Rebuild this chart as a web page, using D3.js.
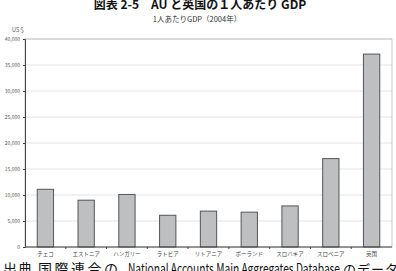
<!DOCTYPE html>
<html>
<head>
<meta charset="utf-8">
<script src="https://cdn.jsdelivr.net/npm/d3@7"></script>
<style>
  body { margin: 0; background: #fff; }
  svg { display: block; }
  text { font-family: "Noto Sans CJK JP", "Noto Sans", sans-serif; }
</style>
</head>
<body>
<svg id="chart" width="396" height="271"></svg>
<script>
// データ
const countries = ["チェコ", "エストニア", "ハンガリー", "ラトビア", "リトアニア", "ポーランド", "スロバキア", "スロベニア", "英国"];
const gdp = [11100, 9000, 10100, 6100, 6900, 6700, 7900, 17000, 37100];
const yTicks = [0, 5000, 10000, 15000, 20000, 25000, 30000, 35000, 40000];

const svg = d3.select("#chart");
const margin = { left: 25, top: 39, right: 4, bottom: 24 };
const W = 396, H = 271;
const x0 = margin.left, x1 = W - margin.right;
const y0 = H - margin.bottom, y1 = margin.top;

const x = d3.scaleBand().domain(countries).range([x0, x1]).paddingInner(0.6).paddingOuter(0.3);
const y = d3.scaleLinear().domain([0, 40000]).range([y0, y1]);

// タイトル
svg.append("text")
    .attr("x", 200).attr("y", 9)
    .attr("text-anchor", "middle")
    .attr("font-size", 12).attr("font-weight", "bold")
    .attr("fill", "#111")
    .text("図表 2-5　AU と英国の１人あたり GDP");

svg.append("text")
    .attr("x", 197).attr("y", 22)
    .attr("text-anchor", "middle")
    .attr("font-size", 7.5)
    .attr("fill", "#333")
    .text("1人あたりGDP（2004年）");

svg.append("text")
    .attr("x", 12).attr("y", 32)
    .attr("font-size", 5.5)
    .attr("fill", "#555")
    .text("US＄");

// グリッド
svg.append("g")
    .selectAll("line")
    .data(yTicks.filter(d => d > 0))
    .join("line")
    .attr("x1", x0).attr("x2", x1)
    .attr("y1", d => y(d)).attr("y2", d => y(d))
    .attr("stroke", "#e4e4e4").attr("stroke-width", 1);

// 枠
svg.append("rect")
    .attr("x", x0).attr("y", y1)
    .attr("width", x1 - x0).attr("height", y0 - y1)
    .attr("fill", "none").attr("stroke", "#b8b8b8").attr("stroke-width", 0.8);

// 棒
svg.append("g")
    .selectAll("rect")
    .data(countries)
    .join("rect")
    .attr("x", d => x(d))
    .attr("y", (d, i) => y(gdp[i]))
    .attr("width", x.bandwidth())
    .attr("height", (d, i) => y0 - y(gdp[i]))
    .attr("fill", "#bdbfc0")
    .attr("stroke", "#555")
    .attr("stroke-width", 1);

// Y軸
const yAxis = svg.append("g")
    .attr("transform", `translate(${x0},0)`)
    .call(d3.axisLeft(y).tickValues(yTicks).tickSize(2).tickFormat(d3.format(",")));
yAxis.select(".domain").attr("stroke", "#444");
yAxis.selectAll(".tick line").attr("stroke", "#444");
yAxis.selectAll("text").attr("font-size", 5).attr("fill", "#555").attr("x", -5);

// X軸
const xAxis = svg.append("g")
    .attr("transform", `translate(0,${y0})`);
xAxis.append("line")
    .attr("x1", x0).attr("x2", x1)
    .attr("stroke", "#444");
xAxis.selectAll(".sep")
    .data(d3.range(1, countries.length))
    .join("line")
    .attr("class", "sep")
    .attr("x1", i => x0 + i * (x1 - x0) / countries.length)
    .attr("x2", i => x0 + i * (x1 - x0) / countries.length)
    .attr("y1", 0).attr("y2", 2)
    .attr("stroke", "#444");
xAxis.selectAll(".lbl")
    .data(countries)
    .join("text")
    .attr("class", "lbl")
    .attr("x", d => x(d) + x.bandwidth() / 2)
    .attr("y", 8.5)
    .attr("text-anchor", "middle")
    .attr("font-size", 5.5)
    .attr("fill", "#444")
    .text(d => d);

// 出典（下端で切れている）
const srcY = 274;
svg.append("text").attr("x", 3).attr("y", srcY)
    .attr("font-size", 14).attr("fill", "#111").attr("letter-spacing", 1)
    .text("出典");
svg.append("text").attr("x", 38).attr("y", srcY)
    .attr("font-size", 14).attr("fill", "#111").attr("letter-spacing", 2.5)
    .text("国際連合の");
svg.append("text").attr("x", 128).attr("y", srcY)
    .attr("font-size", 14).attr("fill", "#111")
    .attr("font-family", "'Liberation Serif', serif")
    .attr("textLength", 212).attr("lengthAdjust", "spacingAndGlyphs")
    .text("National Accounts Main Aggregates Database");
svg.append("text").attr("x", 343).attr("y", srcY)
    .attr("font-size", 13).attr("fill", "#111").attr("letter-spacing", 1)
    .text("のデータ");
</script>
</body>
</html>
